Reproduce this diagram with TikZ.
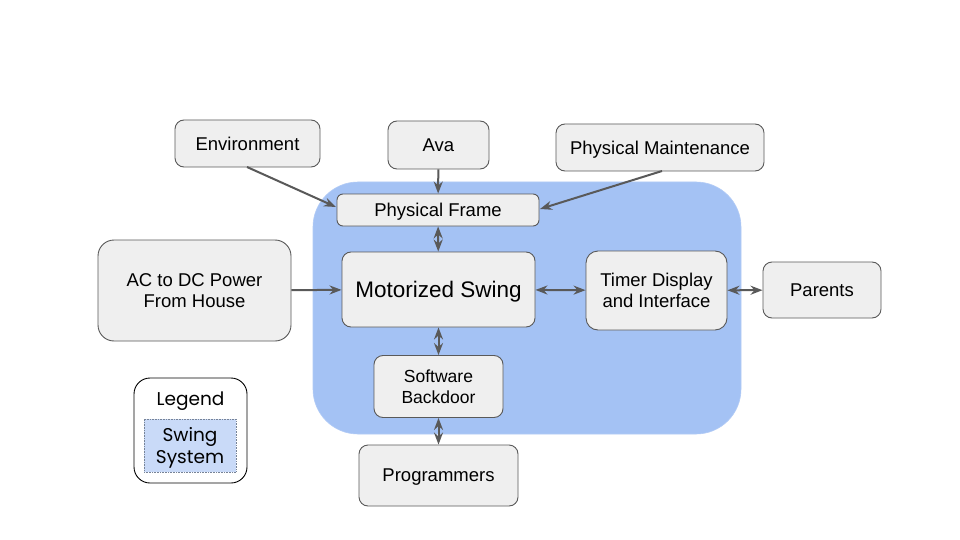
\documentclass[tikz,border=0pt]{standalone}
\usepackage{fontspec}
\setmainfont{Liberation Sans}
\newfontfamily\legendfont{Poppins}
\usetikzlibrary{arrows.meta}
\definecolor{sysblue}{HTML}{A4C2F4}
\definecolor{legblue}{HTML}{C9DAF8}
\definecolor{boxfill}{HTML}{EFEFEF}
\definecolor{boxline}{HTML}{595959}
\definecolor{arrowcol}{HTML}{595959}
\begin{document}
\begin{tikzpicture}[x=1pt,y=-1pt,
  box/.style={draw=boxline, fill=boxfill, line width=0.9pt, rounded corners=9pt, align=center, inner sep=0pt, text depth=0pt, font=\fontsize{18.5}{21.5}\selectfont},
  conn/.style={draw=arrowcol, line width=2pt, -{Stealth[length=12pt,width=9pt]}},
  bconn/.style={draw=arrowcol, line width=2pt, {Stealth[length=12pt,width=9pt]}-{Stealth[length=12pt,width=9pt]}}]
\useasboundingbox (0,0) rectangle (960,540);
\fill[white] (0,0) rectangle (960,540);
% system region
\node[fill=sysblue, draw=sysblue!85!white, line width=0.6pt, rounded corners=45pt, minimum width=428pt, minimum height=252pt, inner sep=0pt] (sys) at (527,308) {};
% nodes
\node[box, minimum width=145pt, minimum height=47pt] (env) at (247.5,143.5) {Environment};
\node[box, minimum width=101pt, minimum height=48pt] (ava) at (438.5,145) {Ava};
\node[box, minimum width=208pt, minimum height=47pt] (pm) at (660,147.5) {Physical Maintenance};
\node[box, minimum width=202pt, minimum height=32pt, rounded corners=6pt] (pf) at (438,210) {Physical Frame};
\node[box, minimum width=193pt, minimum height=101pt, rounded corners=16pt] (ac) at (194.5,290.5) {AC to DC Power\\From House};
\node[box, minimum width=193pt, minimum height=75pt, font=\fontsize{22.5}{26}\selectfont] (ms) at (438.5,289.5) {Motorized Swing};
\node[box, minimum width=141pt, minimum height=79pt, rounded corners=12pt] (td) at (656.5,290.5) {Timer Display\\and Interface};
\node[box, minimum width=118pt, minimum height=56pt] (par) at (822,290) {Parents};
\node[box, minimum width=129pt, minimum height=62pt, font=\fontsize{17.5}{21.5}\selectfont] (sw) at (438.5,386.5) {Software\\Backdoor};
\node[box, minimum width=159pt, minimum height=61pt] (prog) at (438.5,475.5) {Programmers};
% legend
\node[draw=black, fill=white, line width=0.9pt, rounded corners=16pt, minimum width=113pt, minimum height=105pt, inner sep=0pt] (leg) at (190.5,430.5) {};
\node[font=\legendfont\fontsize{18.5}{22}\selectfont, inner sep=0pt, text depth=0pt] (legt) at (190.5,399) {Legend};
\node[draw=boxline!60!sysblue, densely dotted, fill=legblue, line width=0.6pt, minimum width=92pt, minimum height=53pt, inner sep=0pt, align=center, text depth=0pt, font=\legendfont\fontsize{18.5}{21.5}\selectfont] (legsys) at (190,445.5) {Swing\\System};
% connectors
\coordinate (envs) at (247,167);
\coordinate (pfw) at (336,207);
\draw[conn] (envs) -- (pfw);
\draw[conn] (ava) -- (pf);
\coordinate (pms) at (662,171);
\coordinate (pfe) at (540,209);
\draw[conn] (pms) -- (pfe);
\draw[bconn] (pf) -- (ms);
\draw[conn] (ac) -- (ms);
\draw[bconn] (ms) -- (td);
\draw[bconn] (td) -- (par);
\draw[bconn] (ms) -- (sw);
\draw[bconn] (sw) -- (prog);
\end{tikzpicture}
\end{document}
